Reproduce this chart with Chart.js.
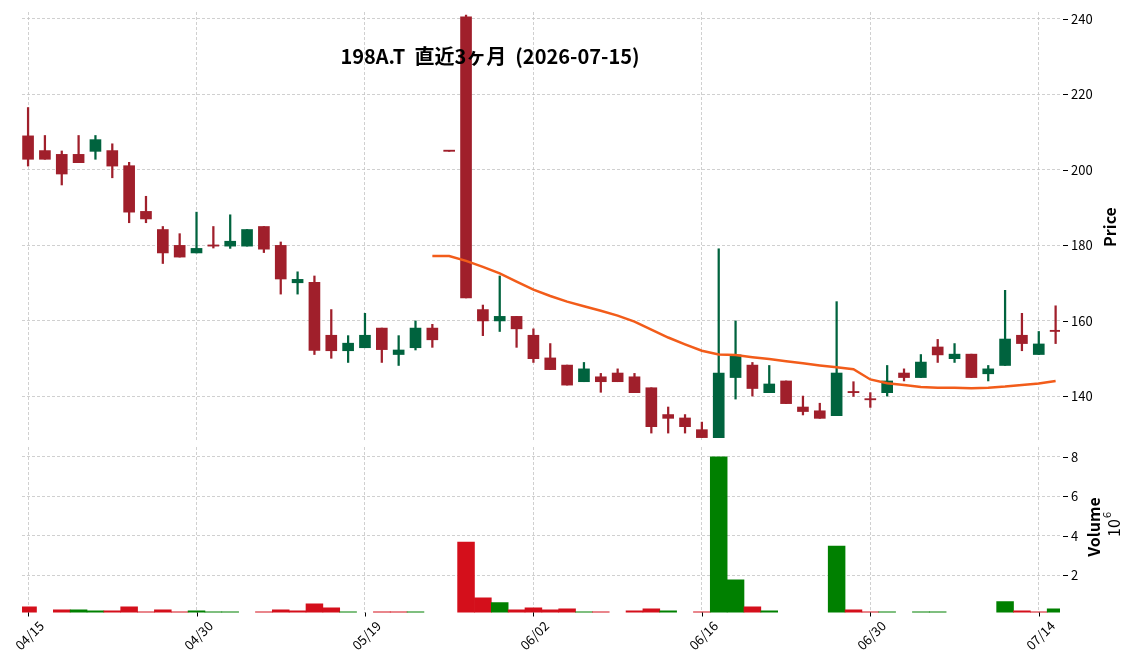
<!DOCTYPE html>
<html>
<head>
<meta charset="utf-8">
<script src="https://cdn.jsdelivr.net/npm/chart.js@4.4.1/dist/chart.umd.min.js"></script>
<style>
  html, body { margin: 0; padding: 0; background: #fff; }
  #wrap { position: relative; width: 1136px; height: 670px; }
  canvas { position: absolute; left: 0; top: 0; }
</style>
</head>
<body>
<div id="wrap">
  <canvas id="priceChart" width="1136" height="670"></canvas>
  <canvas id="volChart" width="1136" height="670"></canvas>
</div>
<script>
// 198A.T 直近3ヶ月 – ローソク足 + 出来高 + 25日移動平均

const dates = ['04/15','04/16','04/17','04/20','04/21','04/22','04/23','04/24','04/27','04/28',
  '04/30','05/01','05/07','05/08','05/11','05/12','05/13','05/14','05/15','05/18',
  '05/19','05/20','05/21','05/22','05/25','05/26','05/27','05/28','05/29','06/01',
  '06/02','06/03','06/04','06/05','06/08','06/09','06/10','06/11','06/12','06/15',
  '06/16','06/17','06/18','06/19','06/22','06/23','06/24','06/25','06/26','06/29',
  '06/30','07/01','07/02','07/03','07/06','07/07','07/08','07/09','07/10','07/13',
  '07/14','07/15'];

const opens = [209.0,205.1,204.1,204.1,204.9,205.1,201.1,189.0,184.2,180.0,
  178.0,180.1,179.8,179.8,185.0,180.0,170.1,170.2,156.2,152.1,
  152.9,158.1,151.1,152.9,158.1,205.1,240.5,163.0,160.0,161.2,
  156.2,150.2,148.3,143.9,145.2,146.2,145.2,142.3,135.2,134.3,
  131.2,129.1,145.0,148.3,141.0,144.1,137.2,136.2,134.9,141.3,
  139.4,141.0,146.2,145.0,153.1,150.0,151.2,146.0,148.2,156.2,
  151.1,157.4];
const highs = [216.5,209.1,205.0,209.1,209.1,206.9,202.0,193.0,185.0,183.1,
  188.8,185.0,188.1,184.2,185.0,180.9,173.0,171.9,163.0,156.1,
  162.0,158.1,156.1,160.0,159.1,205.1,241.0,164.2,171.9,161.2,
  157.9,154.0,148.3,149.0,146.1,147.3,146.1,142.3,137.2,135.2,
  133.2,179.1,160.0,149.0,148.2,144.1,140.1,138.2,165.1,143.9,
  141.0,148.2,147.3,151.1,155.1,154.0,151.2,148.2,168.1,162.0,
  157.2,164.0];
const lows = [201.0,202.8,196.0,201.9,202.8,197.9,186.0,186.0,175.2,176.9,
  178.0,179.3,179.2,179.8,178.1,167.1,167.1,151.1,150.1,149.0,
  152.9,149.0,148.2,152.3,153.0,204.9,166.1,156.1,157.2,153.0,
  149.0,147.1,143.0,143.9,141.1,143.9,141.0,130.3,130.3,130.3,
  129.1,129.1,139.3,140.1,141.0,138.1,135.1,134.2,134.9,140.0,
  137.1,140.1,144.1,145.0,149.0,149.0,145.0,144.1,148.2,152.1,
  151.1,154.0];
const closes = [202.8,202.8,198.9,201.9,208.0,201.0,188.8,187.0,178.0,176.9,
  179.2,179.8,181.1,184.2,179.0,171.1,171.0,152.2,152.1,154.1,
  156.2,152.4,152.3,158.1,155.0,204.9,166.1,160.0,161.2,157.9,
  150.0,147.1,143.0,147.3,143.9,143.9,141.0,132.0,134.2,132.0,
  129.1,146.2,151.0,142.1,143.3,138.1,136.0,134.2,146.2,141.0,
  139.1,144.1,145.0,149.1,151.0,151.2,145.0,147.3,155.2,154.0,
  153.9,157.2];
// 出来高 (百万株)
const volumes = [0.40,0.05,0.25,0.25,0.20,0.20,0.40,0.15,0.25,0.15,
  0.20,0.15,0.15,0.05,0.15,0.25,0.20,0.55,0.35,0.15,
  0.05,0.15,0.15,0.15,0.05,0.05,3.68,0.86,0.61,0.25,
  0.35,0.25,0.30,0.15,0.15,0.05,0.20,0.30,0.20,0.05,
  0.15,8.00,1.76,0.40,0.20,0.05,0.05,0.05,3.48,0.25,
  0.15,0.15,0.05,0.15,0.15,0.05,0.05,0.05,0.66,0.20,
  0.15,0.30];
const ma25 = [null,null,null,null,null,null,null,null,null,null,
  null,null,null,null,null,null,null,null,null,null,
  null,null,null,null,177.2,177.2,175.9,174.3,172.6,170.4,
  168.3,166.6,165.1,163.9,162.7,161.4,159.8,157.7,155.6,153.8,
  152.1,151.1,151.0,150.4,149.9,149.3,148.8,148.2,147.7,147.2,
  144.5,143.5,143.0,142.5,142.3,142.3,142.2,142.3,142.6,143.0,
  143.4,144.1];

const priceTicks = [140, 160, 180, 200, 220, 240];
const volTicks = [2, 4, 6, 8];
const xTicks = [0, 10, 20, 30, 40, 50, 60];
const chartTitle = '198A.T  直近3ヶ月  (2026-07-15)';

const UP = '#00633e', DOWN = '#a01f2b';
const VUP = '#008000', VDOWN = '#d40f1b';
const FONT = '"Noto Sans CJK JP", "Noto Sans", sans-serif';

const idx = dates.map((d, i) => i);
const candleCol = idx.map(i => closes[i] >= opens[i] ? UP : DOWN);
const volCol = idx.map(i => (i > 0 && closes[i] >= closes[i - 1]) ? VUP : VDOWN);

const gridOpts = { color: '#c4c4c4', lineWidth: 0.8, drawTicks: false, offset: false };
const borderOpts = { display: false, dash: [3, 2] };

function xScale() {
  return {
    type: 'linear', min: -0.36, max: 61.26, offset: false,
    grid: gridOpts, border: borderOpts,
    ticks: { display: false },
    afterBuildTicks: s => { s.ticks = xTicks.map(v => ({ value: v })); }
  };
}

function yScale(min, max, ticks) {
  return {
    type: 'linear', position: 'right', min: min, max: max,
    grid: gridOpts, border: borderOpts,
    ticks: { display: false },
    afterBuildTicks: s => { s.ticks = ticks.map(v => ({ value: v })); },
    afterFit: s => { s.width = 76; }
  };
}

// 軸の目盛り・ラベル・タイトル
const axisDeco = {
  id: 'axisDeco',
  afterDraw(chart, args, o) {
    const ctx = chart.ctx;
    const ys = chart.scales.y, xs = chart.scales.x;
    ctx.save();
    ctx.fillStyle = '#000';
    ctx.strokeStyle = '#000';
    ctx.lineWidth = 1;
    ctx.font = '13px ' + FONT;
    o.yTicks.forEach(v => {
      const y = Math.round(ys.getPixelForValue(v)) + 0.5;
      ctx.beginPath();
      ctx.moveTo(ys.left + 3, y);
      ctx.lineTo(ys.left + 8, y);
      ctx.stroke();
      ctx.textAlign = 'left';
      ctx.textBaseline = 'middle';
      ctx.fillText(String(v), ys.left + 11, y);
    });
    if (o.xLabels) {
      xTicks.forEach(v => {
        const x = Math.round(xs.getPixelForValue(v)) + 0.5;
        ctx.beginPath();
        ctx.moveTo(x, xs.top);
        ctx.lineTo(x, xs.top + 4);
        ctx.stroke();
        ctx.save();
        ctx.translate(x + 1, xs.top + 23);
        ctx.rotate(-Math.PI / 4);
        ctx.textAlign = 'center';
        ctx.textBaseline = 'middle';
        ctx.fillText(dates[v], 0, 0);
        ctx.restore();
      });
    }
    o.titles.forEach(t => {
      ctx.save();
      ctx.translate(t.x, t.y);
      if (t.rot) ctx.rotate(-Math.PI / 2);
      ctx.font = t.font;
      ctx.textAlign = 'center';
      ctx.textBaseline = 'middle';
      ctx.fillText(t.text, 0, 0);
      if (t.sup) {
        const w = ctx.measureText(t.text).width;
        ctx.font = '11px ' + FONT;
        ctx.textAlign = 'left';
        ctx.fillText(t.sup, w / 2 + 1, -7);
      }
      ctx.restore();
    });
    ctx.restore();
  }
};

new Chart(document.getElementById('priceChart'), {
  data: {
    datasets: [
      {
        type: 'line', label: 'MA25', order: 0,
        data: idx.map(i => ({ x: i, y: ma25[i] })),
        borderColor: '#f25c1a', borderWidth: 2.5, pointRadius: 0,
        tension: 0, spanGaps: false
      },
      {
        type: 'bar', label: 'body', order: 1, grouped: false,
        data: idx.map(i => ({ x: i, y: [opens[i], closes[i]] })),
        backgroundColor: candleCol, barThickness: 11, minBarLength: 1.2
      },
      {
        type: 'bar', label: 'wick', order: 2, grouped: false,
        data: idx.map(i => ({ x: i, y: [lows[i], highs[i]] })),
        backgroundColor: candleCol, barThickness: 1.6
      }
    ]
  },
  options: {
    responsive: false, animation: false,
    layout: { padding: { left: 22, top: 12, right: 0, bottom: 229 } },
    plugins: {
      legend: { display: false }, tooltip: { enabled: false },
      axisDeco: {
        yTicks: priceTicks, xLabels: false,
        titles: [
          { text: 'Price', x: 1110, y: 227, rot: true, font: 'bold 16px ' + FONT },
          { text: chartTitle, x: 490, y: 56, rot: false, font: 'bold 20px ' + FONT }
        ]
      }
    },
    scales: { x: xScale(), y: yScale(128.2, 241.8, priceTicks) }
  },
  plugins: [axisDeco]
});

new Chart(document.getElementById('volChart'), {
  type: 'bar',
  data: {
    datasets: [{
      label: 'Volume',
      data: idx.map(i => ({ x: i, y: volumes[i] })),
      backgroundColor: volCol, barPercentage: 1.0, categoryPercentage: 1.0
    }]
  },
  options: {
    responsive: false, animation: false,
    layout: { padding: { left: 22, top: 447, right: 0, bottom: 57.5 } },
    plugins: {
      legend: { display: false }, tooltip: { enabled: false },
      axisDeco: {
        yTicks: volTicks, xLabels: true,
        titles: [
          { text: 'Volume', x: 1094, y: 527, rot: true, font: 'bold 16px ' + FONT },
          { text: '10', x: 1114, y: 528, rot: true, font: '16px ' + FONT, sup: '6' }
        ]
      }
    },
    scales: { x: xScale(), y: yScale(0.11, 8.5, volTicks) }
  },
  plugins: [axisDeco]
});
</script>
</body>
</html>
